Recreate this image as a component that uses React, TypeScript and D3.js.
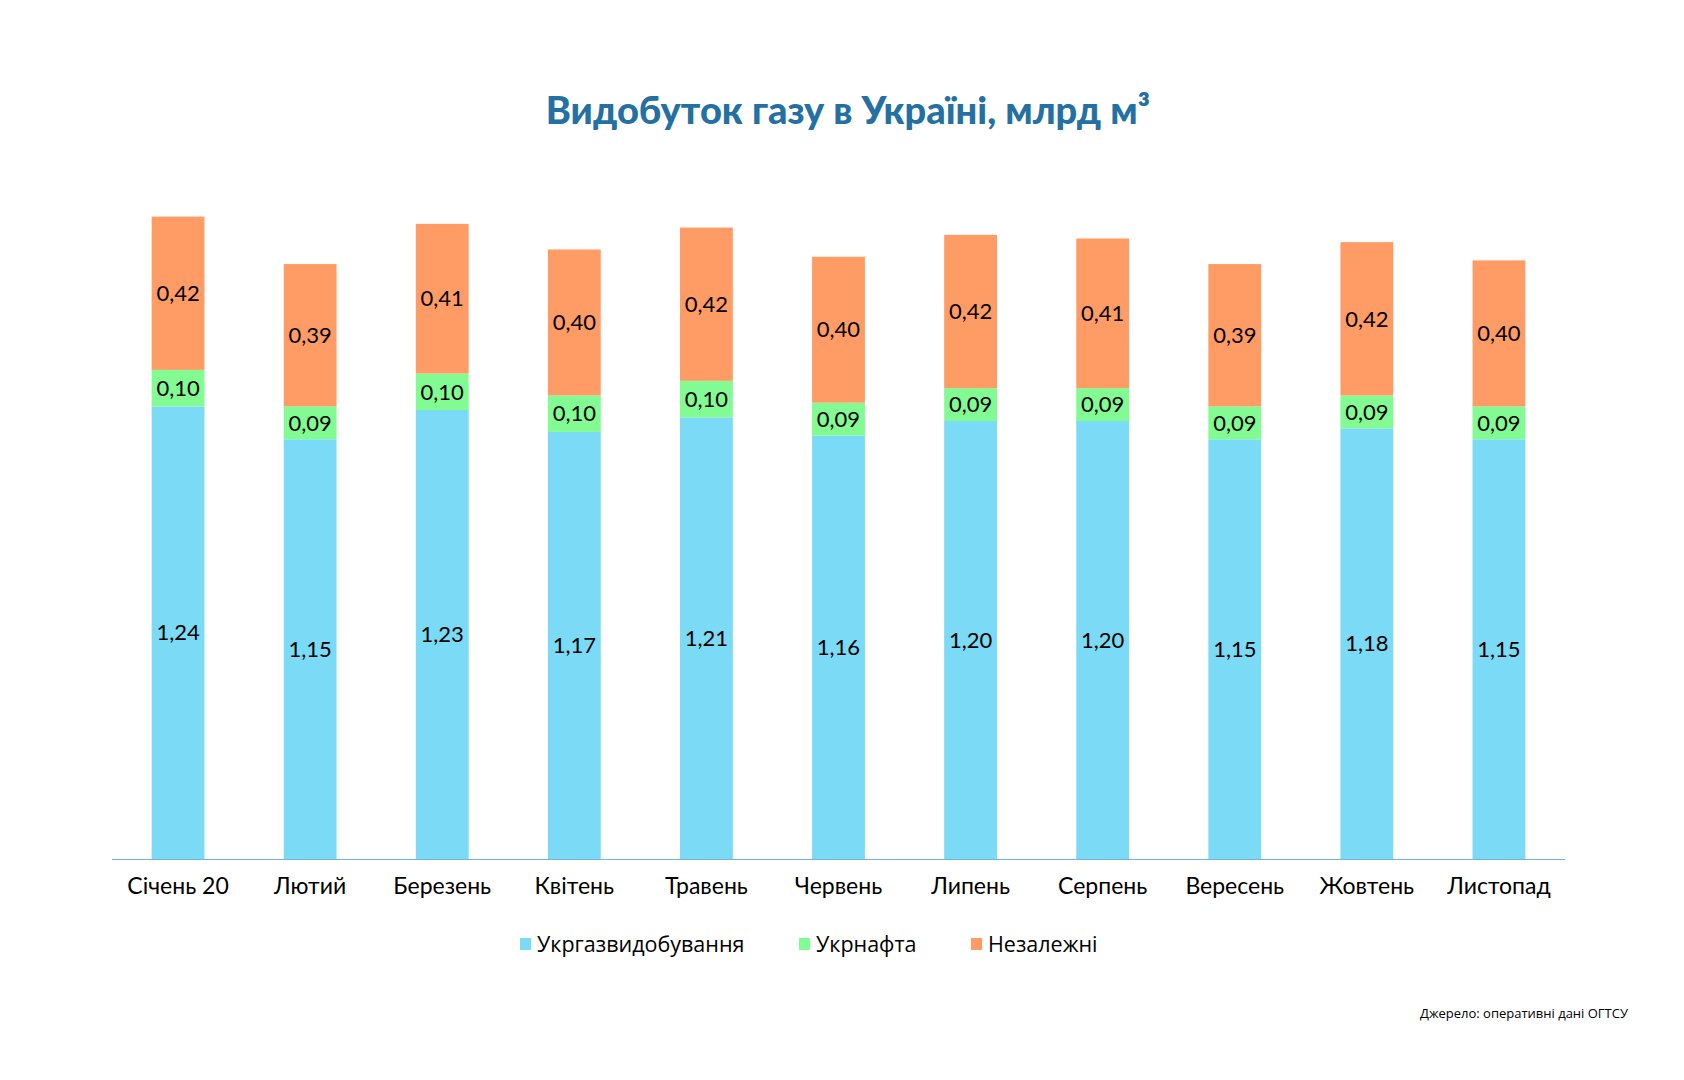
import React from "react";
import * as d3 from "d3";

const months = ["Січень 20", "Лютий", "Березень", "Квітень", "Травень", "Червень", "Липень", "Серпень", "Вересень", "Жовтень", "Листопад"];
const ukrgaz = [1.24, 1.15, 1.23, 1.17, 1.21, 1.16, 1.2, 1.2, 1.15, 1.18, 1.15];
const ukrnafta = [0.1, 0.09, 0.1, 0.1, 0.1, 0.09, 0.09, 0.09, 0.09, 0.09, 0.09];
const independent = [0.42, 0.39, 0.41, 0.4, 0.42, 0.4, 0.42, 0.41, 0.39, 0.42, 0.4];
const seriesNames = ["Укргазвидобування", "Укрнафта", "Незалежні"];
const colors = ["#7bdaf5", "#82fb93", "#ff9c66"];

const W = 1684;
const H = 1080;
const FONT = "Lato, 'Noto Sans', sans-serif";

export default function App() {
  const x = d3.scaleBand().domain(months).range([112, 1565]).paddingInner(0.6).paddingOuter(0.3);
  const y = d3.scaleLinear().domain([0, 1.8]).range([859, 202]);

  const rows = months.map((m, i) => ({ month: m, a: ukrgaz[i], b: ukrnafta[i], c: independent[i] }));
  const stack = d3.stack<any>().keys(["a", "b", "c"])(rows);
  const fmt = (v: number) => v.toFixed(2).replace(".", ",");

  // legend item x positions (square left edges)
  const legendX = [520, 799, 971];

  return (
    <svg width={W} height={H} style={{ position: "absolute", left: 0, top: 0, background: "#fff" }}>
      <text x={848} y={124} textAnchor="middle" fontFamily={FONT} fontWeight={900} fontSize={38} fill="#2470a2">
        Видобуток газу в Україні, млрд м³
      </text>
      {stack.map((layer, si) => (
        <g key={si}>
          {layer.map((d, i) => (
            <g key={i}>
              <rect
                x={x(months[i])}
                y={y(d[1])}
                width={x.bandwidth()}
                height={y(d[0]) - y(d[1])}
                fill={colors[si]}
              />
              <text
                x={(x(months[i]) as number) + x.bandwidth() / 2}
                y={(y(d[0]) + y(d[1])) / 2}
                dy="0.35em"
                textAnchor="middle"
                fontFamily={FONT}
                fontSize={22}
                fill="#000"
              >
                {fmt(d[1] - d[0])}
              </text>
            </g>
          ))}
        </g>
      ))}
      <line x1={112} x2={1565} y1={859.5} y2={859.5} stroke="#6fb6da" strokeWidth={1.2} />
      {months.map((m) => (
        <text
          key={m}
          x={(x(m) as number) + x.bandwidth() / 2}
          y={894}
          textAnchor="middle"
          fontFamily={FONT}
          fontSize={23}
          fill="#000"
        >
          {m}
        </text>
      ))}
      {seriesNames.map((s, i) => (
        <g key={s}>
          <rect x={legendX[i]} y={938} width={11} height={12} fill={colors[i]} />
          <text x={legendX[i] + 17} y={952} fontFamily="'Open Sans', sans-serif" fontSize={21.5} fill="#000">
            {s}
          </text>
        </g>
      ))}
      <text x={1628} y={1018} textAnchor="end" fontFamily="'Open Sans', sans-serif" fontSize={13} fill="#000">
        Джерело: оперативні дані ОГТСУ
      </text>
    </svg>
  );
}
